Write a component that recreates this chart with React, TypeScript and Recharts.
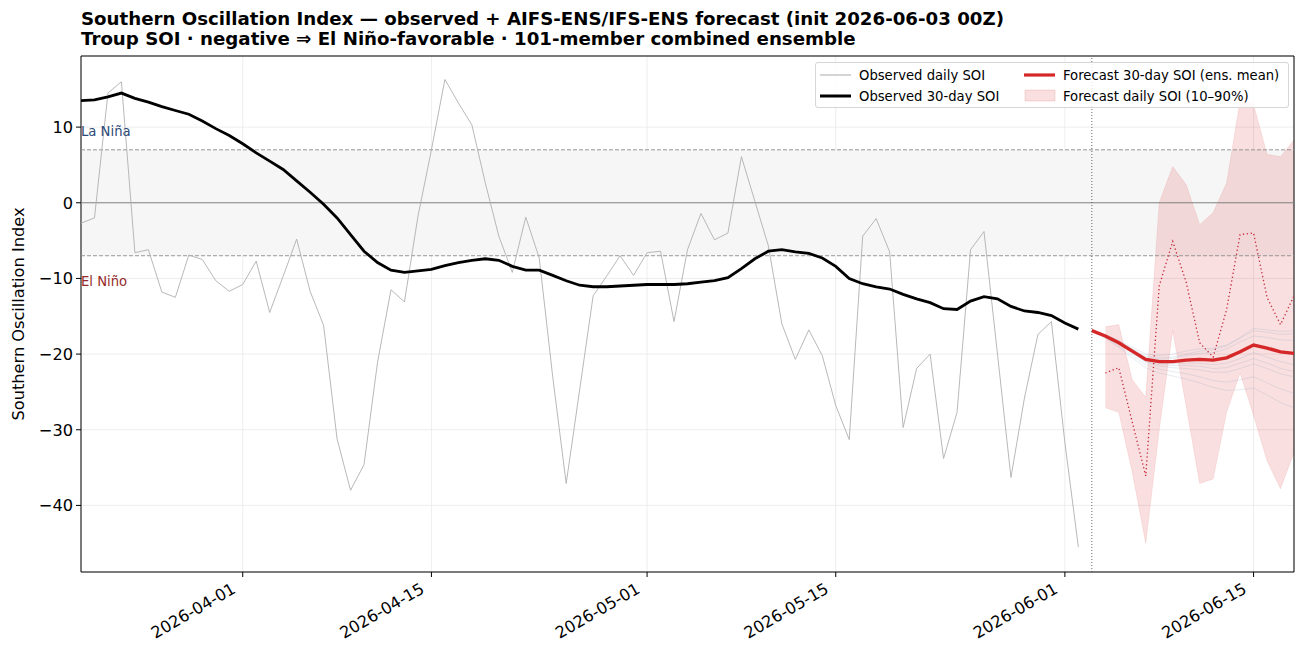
import React from 'react';
import {
  ComposedChart,
  Line,
  Area,
  XAxis,
  YAxis,
  CartesianGrid,
  ReferenceArea,
  ReferenceLine,
} from 'recharts';

// observed series start on this day, one value per day
const OBS_START = '2026-03-20';
const FC_START = '2026-06-03';
const BAND_START = '2026-06-04';
const END_DATE = '2026-06-18';

const TICK_DATES = ['2026-04-01', '2026-04-15', '2026-05-01', '2026-05-15', '2026-06-01', '2026-06-15'];
const Y_TICKS = [-40, -30, -20, -10, 0, 10];

const obsDaily = [
  -2.7, -2.0, 14.5, 16.0, -6.6, -6.2, -11.8, -12.5, -6.9, -7.5, -10.3, -11.7, -10.8, -7.7, -14.5,
  -9.7, -4.8, -11.7, -16.2, -31.2, -38.0, -34.6, -21.1, -11.5, -13.1, -1.8, 7.0, 16.3, 13.2, 10.3,
  2.6, -4.4, -9.2, -1.9, -7.3, -23.0, -37.1, -24.7, -12.3, -9.7, -7.0, -9.6, -6.6, -6.4, -15.7,
  -6.2, -1.4, -4.9, -4.0, 6.1, 0.2, -5.7, -16.0, -20.7, -16.8, -20.2, -26.8, -31.3, -4.4, -2.1,
  -6.5, -29.7, -21.9, -20.0, -33.8, -27.7, -6.2, -3.8, -20.0, -36.3, -25.8, -17.4, -15.7, -31.7, -45.5,
];

const obs30 = [
  13.5, 13.6, 14.0, 14.5, 13.8, 13.3, 12.7, 12.2, 11.7, 10.8, 9.8, 8.9, 7.8, 6.6, 5.5,
  4.4, 2.9, 1.4, -0.2, -2.0, -4.2, -6.4, -7.9, -8.9, -9.2, -9.0, -8.8, -8.3, -7.9, -7.6,
  -7.4, -7.6, -8.4, -8.9, -8.9, -9.6, -10.3, -10.9, -11.1, -11.1, -11.0, -10.9, -10.8, -10.8, -10.8,
  -10.7, -10.5, -10.3, -9.9, -8.7, -7.4, -6.4, -6.2, -6.5, -6.7, -7.3, -8.4, -10.0, -10.7, -11.1,
  -11.4, -12.1, -12.7, -13.2, -14.0, -14.1, -13.0, -12.4, -12.7, -13.7, -14.3, -14.5, -14.9, -15.9, -16.7,
];

// forecast 30-day ensemble mean, from FC_START
const fc30 = [-16.9, -17.6, -18.5, -19.6, -20.7, -21.0, -21.0, -20.8, -20.7, -20.8, -20.5, -19.7, -18.8, -19.2, -19.7, -19.9];

// forecast daily 10% / 90% and the dotted daily line, from BAND_START
const fcDailyP10 = [-27.1, -27.7, -35.6, -45.0, -30.0, -16.9, -26.9, -37.1, -36.5, -27.7, -22.5, -28.1, -34.1, -37.8, -33.0];
const fcDailyP90 = [-16.4, -16.1, -23.4, -25.7, 0.0, 4.8, 2.4, -2.9, -1.3, 2.6, 13.5, 13.0, 6.4, 6.1, 8.3];
const fcDaily = [-22.5, -21.8, -29.0, -36.1, -11.0, -5.1, -10.5, -18.5, -20.4, -14.1, -4.2, -4.0, -12.5, -16.1, -12.3];

// a few of the faint 30-day ensemble members, from FC_START
const members = [
  [-16.9, -17.4, -18.2, -19.1, -20.0, -20.2, -20.0, -19.6, -19.3, -19.2, -18.8, -17.9, -16.9, -17.1, -17.4, -17.3],
  [-16.9, -17.7, -18.7, -19.9, -21.1, -21.6, -21.8, -21.9, -22.1, -22.4, -22.4, -21.9, -21.3, -21.9, -22.6, -23.0],
  [-16.9, -17.5, -18.4, -19.4, -20.5, -20.7, -20.6, -20.2, -19.9, -19.8, -19.3, -18.4, -17.6, -17.8, -18.1, -18.2],
  [-16.9, -17.8, -18.9, -20.2, -21.4, -22.0, -22.3, -22.6, -23.0, -23.5, -23.7, -23.4, -23.0, -23.8, -24.6, -25.2],
  [-16.9, -17.6, -18.5, -19.7, -20.8, -21.2, -21.3, -21.2, -21.2, -21.4, -21.2, -20.6, -19.8, -20.4, -21.0, -21.4],
  [-16.9, -17.9, -19.1, -20.5, -21.8, -22.5, -22.9, -23.3, -23.8, -24.4, -24.8, -24.7, -24.5, -25.4, -26.4, -27.1],
  [-16.9, -17.5, -18.3, -19.3, -20.3, -20.5, -20.4, -20.0, -19.6, -19.4, -18.9, -17.8, -16.6, -16.8, -17.0, -16.9],
  [-16.9, -17.7, -18.6, -19.8, -21.0, -21.4, -21.5, -21.5, -21.6, -21.9, -21.8, -21.2, -20.6, -21.2, -21.9, -22.3],
];

const DAY = 86400000;
const dayOf = (iso: string) => Math.round((Date.parse(iso) - Date.parse(OBS_START)) / DAY);

const fcStart = dayOf(FC_START);
const bandStart = dayOf(BAND_START);
const lastDay = dayOf(END_DATE);

const rows: any[] = [];
for (let i = 0; i <= lastDay; i++) {
  const r: any = { t: i };
  if (i < obsDaily.length) r.obsDaily = obsDaily[i];
  if (i < obs30.length) r.obs30 = obs30[i];
  const f = i - fcStart;
  if (f >= 0 && f < fc30.length) {
    r.fc30 = fc30[f];
    members.forEach((m, k) => (r['m' + k] = m[f]));
  }
  const b = i - bandStart;
  if (b >= 0 && b < fcDaily.length) {
    r.band = [fcDailyP10[b], fcDailyP90[b]];
    r.fcDaily = fcDaily[b];
  }
  rows.push(r);
}

const FONT = '"DejaVu Sans", sans-serif';
const TICK_FS = 16.2;
const Y_MIN = -48.8;
const Y_MAX = 19.4;

const DateTick = (props: any) => {
  const { x, y, payload } = props;
  const label = TICK_DATES[TICK_DATES.map(dayOf).indexOf(payload.value)] || '';
  return (
    <g transform={`translate(${x - 6},${y + 13})`}>
      <text x={0} y={0} textAnchor="end" transform="rotate(-30)" fontSize={TICK_FS} fontFamily={FONT} fill="#000">
        {label}
      </text>
    </g>
  );
};

const LegendBox = () => {
  const item = (left: number, top: number, glyph: React.ReactNode, text: string) => (
    <div style={{ position: 'absolute', left, top, display: 'flex', alignItems: 'center', height: 16 }}>
      <svg width={32} height={16} style={{ marginRight: 7 }}>{glyph}</svg>
      <span>{text}</span>
    </div>
  );
  return (
    <div
      style={{
        position: 'absolute',
        left: 815,
        top: 62,
        width: 472,
        height: 44,
        border: '1px solid #d6d6d6',
        borderRadius: 3,
        background: 'rgba(255,255,255,0.8)',
        fontFamily: FONT,
        fontSize: 13.2,
        color: '#000',
        whiteSpace: 'nowrap',
      }}
    >
      {item(4, 4, <line x1={0} y1={8} x2={31} y2={8} stroke="#aaaaaa" strokeWidth={1} />, 'Observed daily SOI')}
      {item(4, 25, <line x1={0} y1={8} x2={31} y2={8} stroke="#000" strokeWidth={3} />, 'Observed 30-day SOI')}
      {item(208, 4, <line x1={0} y1={8} x2={31} y2={8} stroke="#d62728" strokeWidth={3.2} />, 'Forecast 30-day SOI (ens. mean)')}
      {item(
        208,
        25,
        <rect x={1} y={2} width={30} height={11} fill="#d62728" fillOpacity={0.15} stroke="#d62728" strokeOpacity={0.15} />,
        'Forecast daily SOI (10–90%)'
      )}
    </div>
  );
};

export default function App() {
  return (
    <div style={{ position: 'absolute', left: 0, top: 0, width: 1306, height: 657, background: '#fff' }}>
      <div
        style={{
          position: 'absolute',
          left: 81,
          top: 9,
          fontFamily: FONT,
          fontSize: 18.2,
          fontWeight: 'bold',
          lineHeight: '20px',
          whiteSpace: 'nowrap',
        }}
      >
        <div>Southern Oscillation Index — observed + AIFS-ENS/IFS-ENS forecast (init 2026-06-03 00Z)</div>
        <div>Troup SOI · negative ⇒ El Niño-favorable · 101-member combined ensemble</div>
      </div>

      <ComposedChart
        width={1306}
        height={657}
        data={rows}
        margin={{ top: 56, right: 12, bottom: 5, left: 11 }}
        style={{ position: 'absolute', left: 0, top: 0 }}
      >
        <ReferenceArea y1={-7} y2={7} fill="#f6f6f6" fillOpacity={1} stroke="none" />
        <CartesianGrid stroke="#e8e8e8" strokeWidth={0.8} />
        <XAxis
          dataKey="t"
          type="number"
          domain={[0, lastDay]}
          ticks={TICK_DATES.map(dayOf)}
          tick={<DateTick />}
          tickSize={5}
          tickLine={{ stroke: '#000' }}
          axisLine={false}
          height={80}
          interval={0}
          allowDataOverflow
        />
        <YAxis
          type="number"
          domain={[Y_MIN, Y_MAX]}
          ticks={Y_TICKS}
          width={70}
          tickSize={5}
          tickMargin={3}
          tickLine={{ stroke: '#000' }}
          axisLine={false}
          tick={{ fontSize: TICK_FS, fill: '#000', fontFamily: FONT }}
          tickFormatter={(v: number) => String(v).replace('-', '\u2212')}
          allowDataOverflow
          interval={0}
        />
        <ReferenceLine y={7} stroke="#8c8c8c" strokeWidth={0.9} strokeDasharray="4 2" />
        <ReferenceLine y={-7} stroke="#8c8c8c" strokeWidth={0.9} strokeDasharray="4 2" />
        <ReferenceLine y={0} stroke="#808080" strokeWidth={1} />
        <ReferenceLine
          y={9.5}
          stroke="none"
          label={{ value: 'La Niña', position: 'insideLeft', offset: 0, fill: '#2b4a78', fontSize: 13.2, fontFamily: FONT }}
        />
        <ReferenceLine
          y={-10.4}
          stroke="none"
          label={{ value: 'El Niño', position: 'insideLeft', offset: 0, fill: '#962a2a', fontSize: 13.2, fontFamily: FONT }}
        />

        <Line dataKey="obsDaily" stroke="#b0b0b0" strokeWidth={0.9} dot={false} activeDot={false} isAnimationActive={false} />
        <Area
          dataKey="band"
          type="linear"
          stroke="#d62728"
          strokeOpacity={0.12}
          strokeWidth={0.8}
          fill="#d62728"
          fillOpacity={0.15}
          dot={false}
          activeDot={false}
          isAnimationActive={false}
        />
        {members.map((_, k) => (
          <Line
            key={k}
            dataKey={'m' + k}
            stroke="#8aa6c6"
            strokeOpacity={0.28}
            strokeWidth={0.8}
            dot={false}
            activeDot={false}
            isAnimationActive={false}
          />
        ))}
        <Line
          dataKey="fcDaily"
          stroke="#c42a3c"
          strokeWidth={1.3}
          strokeDasharray="1.3 2.6"
          dot={false}
          activeDot={false}
          isAnimationActive={false}
        />
        <Line dataKey="obs30" stroke="#000" strokeWidth={2.8} dot={false} activeDot={false} isAnimationActive={false} />
        <Line dataKey="fc30" stroke="#d62728" strokeWidth={3.4} dot={false} activeDot={false} isAnimationActive={false} />
        <ReferenceLine x={fcStart} stroke="#555" strokeWidth={0.9} strokeDasharray="1 2" />
        <ReferenceArea x1={0} x2={lastDay} y1={Y_MIN} y2={Y_MAX} fill="none" stroke="#000" strokeWidth={1} />
      </ComposedChart>

      <LegendBox />

      <div
        style={{
          position: 'absolute',
          left: 18,
          top: 314,
          transform: 'translate(-50%, -50%) rotate(-90deg)',
          fontFamily: FONT,
          fontSize: 16.2,
          whiteSpace: 'nowrap',
        }}
      >
        Southern Oscillation Index
      </div>
    </div>
  );
}
